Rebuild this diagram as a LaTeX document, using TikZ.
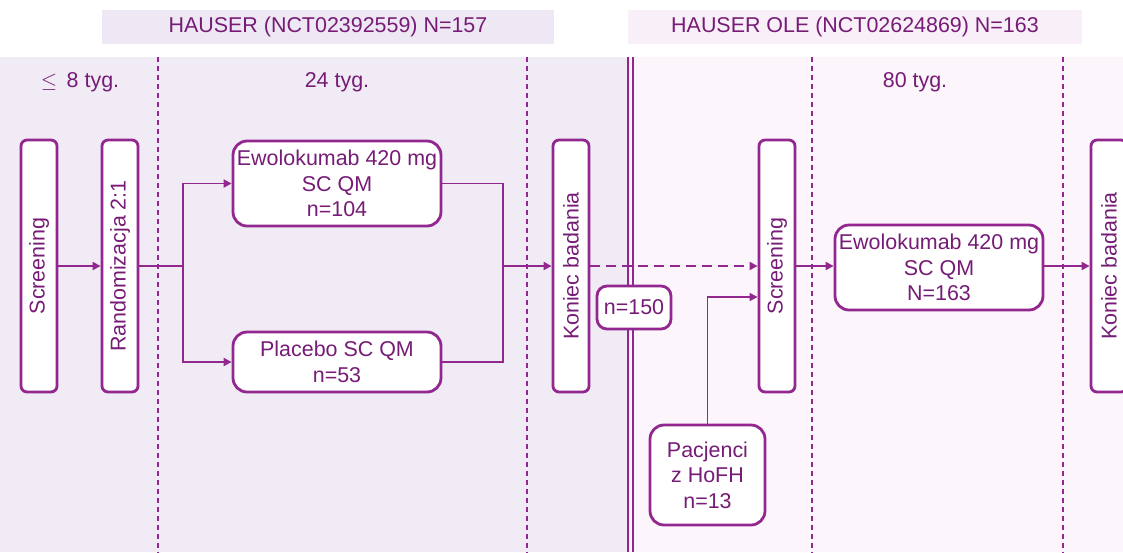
\documentclass[tikz,border=0pt]{standalone}
\usepackage{fontspec}
\setmainfont{Liberation Sans}
\usetikzlibrary{arrows.meta}
\definecolor{pline}{RGB}{146,39,143}
\definecolor{ptext}{RGB}{118,28,118}
\definecolor{bgleft}{RGB}{240,235,245}
\definecolor{bgright}{RGB}{252,245,252}
\definecolor{hdleft}{RGB}{238,232,244}
\definecolor{hdright}{RGB}{249,239,249}
\tikzset{
  box/.style={draw=pline, line width=1.6pt, fill=white, text=ptext, align=center, inner sep=0pt, font=\fontsize{12.2}{14.5}\selectfont},
  vbox/.style={box, rounded corners=0.12cm, minimum width=0.72cm, minimum height=5.04cm},
  wbox/.style={box, rounded corners=0.28cm},
  conn/.style={draw=pline, line width=1.1pt},
  arr/.style={conn, -{Triangle[length=0.16cm,width=0.16cm]}},
  divider/.style={draw=pline, line width=0.9pt, dash pattern=on 0.1cm off 0.08cm},
  lbl/.style={text=ptext, font=\fontsize{12.2}{14.5}\selectfont, inner sep=0pt},
}
\begin{document}
\begin{tikzpicture}[x=0.02cm,y=-0.02cm]
\useasboundingbox (0,0) rectangle (1123,552);
\clip (0,0) rectangle (1123,552);
% backgrounds
\fill[bgleft] (0,57) rectangle (630,552);
\fill[bgright] (630,57) rectangle (1123,552);
\fill[hdleft] (102,10) rectangle (554,44);
\fill[hdright] (628,10) rectangle (1082,44);
\node[lbl] (h1) at (328,27) {HAUSER (NCT02392559) N=157};
\node[lbl] (h2) at (855,27) {HAUSER OLE (NCT02624869) N=163};
% dividers
\coordinate (d1t) at (158,57); \coordinate (d1b) at (158,552);
\coordinate (d2t) at (527,57); \coordinate (d2b) at (527,552);
\coordinate (d3t) at (812,57); \coordinate (d3b) at (812,552);
\coordinate (d4t) at (1063,57); \coordinate (d4b) at (1063,552);
\draw[divider] (d1t) -- (d1b);
\draw[divider] (d2t) -- (d2b);
\draw[divider] (d3t) -- (d3b);
\draw[divider] (d4t) -- (d4b);
\coordinate (ma) at (628,57); \coordinate (mb) at (628,552);
\coordinate (mc) at (633,57); \coordinate (md) at (633,552);
\draw[pline, line width=1.1pt] (ma) -- (mb);
\draw[pline, line width=1.1pt] (mc) -- (md);
% period labels
\node[lbl] (p1) at (80,82) {$\leq$\, 8 tyg.};
\node[lbl] (p2) at (337,82) {24 tyg.};
\node[lbl] (p3) at (915,82) {80 tyg.};
% boxes
\node[vbox] (scr1) at (39,266) {\rotatebox{90}{Screening}};
\node[vbox] (rand) at (120,266) {\rotatebox{90}{Randomizacja 2:1}};
\node[wbox, minimum width=4.16cm, minimum height=1.7cm] (ewo1) at (337,183.5) {Ewolokumab 420 mg\\SC QM\\n=104};
\node[wbox, minimum width=4.16cm, minimum height=1.2cm] (plac) at (337,362) {Placebo SC QM\\n=53};
\node[vbox] (kon1) at (571,266) {\rotatebox{90}{Koniec badania}};
\node[vbox] (scr2) at (777,266) {\rotatebox{90}{Screening}};
\node[wbox, minimum width=4.16cm, minimum height=1.7cm] (ewo2) at (939,267.5) {Ewolokumab 420 mg\\SC QM\\N=163};
\node[vbox] (kon2) at (1109,266) {\rotatebox{90}{Koniec badania}};
\node[wbox, rounded corners=0.2cm, minimum width=1.48cm, minimum height=0.86cm] (n150) at (634,307.5) {n=150};
\node[wbox, minimum width=2.3cm, minimum height=2.0cm] (hofh) at (707.5,475) {Pacjenci\\z HoFH\\n=13};
% connectors
\coordinate (splitL) at (183,266);
\coordinate (joinR) at (503,266);
\draw[arr] (scr1.east) -- (rand.west);
\draw[conn] (rand.east) -- (splitL);
\draw[arr] (splitL) |- (ewo1.west);
\draw[arr] (splitL) |- (plac.west);
\draw[conn] (ewo1.east) -| (joinR);
\draw[conn] (plac.east) -| (joinR);
\draw[arr] (joinR) -- (kon1.west);
\draw[arr, dashed, dash pattern=on 0.2cm off 0.12cm] (kon1.east) -- (scr2.west);
\coordinate (hofhturn) at (707.5,297);
\draw[pline, line width=0.6pt, -{Triangle[length=0.16cm,width=0.16cm]}] (hofh.north) -- (hofhturn) -- (scr2.west |- hofhturn);
\draw[arr] (scr2.east) -- (ewo2.west |- scr2.east);
\draw[arr] (ewo2.east |- kon2.west) -- (kon2.west);
\end{tikzpicture}
\end{document}
